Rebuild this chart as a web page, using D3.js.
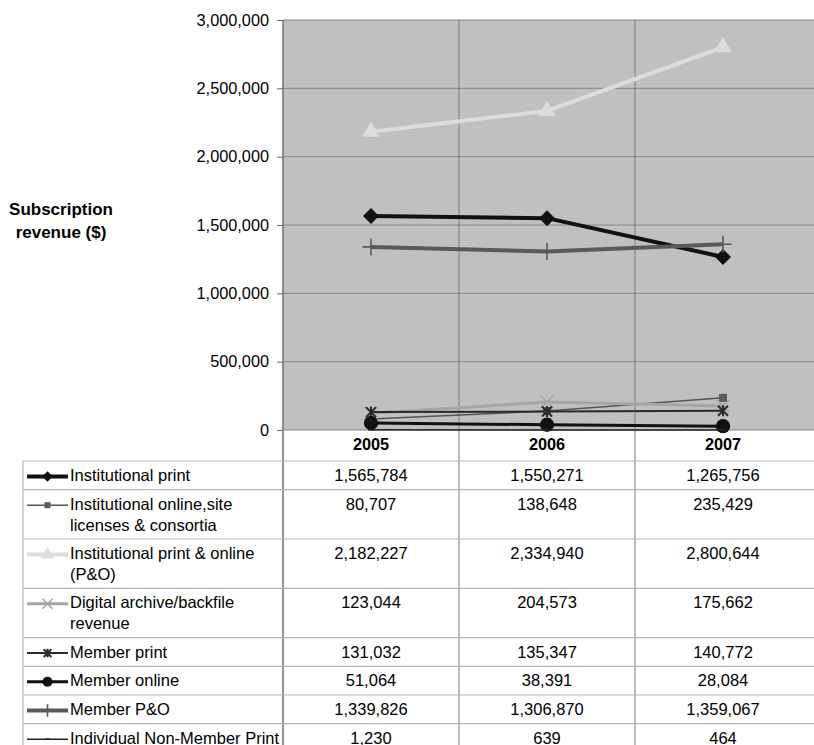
<!DOCTYPE html>
<html>
<head>
<meta charset="utf-8">
<script src="https://cdn.jsdelivr.net/npm/d3@7"></script>
<style>
  html, body { margin: 0; padding: 0; background: #fff; }
  svg text { font-family: "Liberation Sans", Arial, sans-serif; fill: #000; }
</style>
</head>
<body>
<svg id="chart" width="814" height="745"></svg>
<script>
// ---- data ----
const years = ["2005", "2006", "2007"];
const yTicks = [0, 500000, 1000000, 1500000, 2000000, 2500000, 3000000];

const seriesLabels = [
  ["Institutional print"],
  ["Institutional online,site", "licenses & consortia"],
  ["Institutional print & online", "(P&O)"],
  ["Digital archive/backfile", "revenue"],
  ["Member print"],
  ["Member online"],
  ["Member P&O"],
  ["Individual Non-Member Print"]
];

const institutionalPrint = [1565784, 1550271, 1265756];
const institutionalOnline = [80707, 138648, 235429];
const institutionalPO = [2182227, 2334940, 2800644];
const digitalArchive = [123044, 204573, 175662];
const memberPrint = [131032, 135347, 140772];
const memberOnline = [51064, 38391, 28084];
const memberPO = [1339826, 1306870, 1359067];
const individualNonMember = [1230, 639, 464];

const seriesValues = [
  institutionalPrint, institutionalOnline, institutionalPO, digitalArchive,
  memberPrint, memberOnline, memberPO, individualNonMember
];

// ---- custom stroke symbols ----
const plusSym = { draw(c, s) { const r = Math.sqrt(s) / 2; c.moveTo(-r, 0); c.lineTo(r, 0); c.moveTo(0, -r); c.lineTo(0, r); } };
const timesSym = { draw(c, s) { const r = Math.sqrt(s) / 2; c.moveTo(-r, -r); c.lineTo(r, r); c.moveTo(-r, r); c.lineTo(r, -r); } };
const asteriskSym = { draw(c, s) { const r = Math.sqrt(s) / 2; c.moveTo(-r, -r); c.lineTo(r, r); c.moveTo(-r, r); c.lineTo(r, -r); c.moveTo(0, -r * 1.1); c.lineTo(0, r * 1.1); } };
const dashSym = { draw(c, s) { const r = Math.sqrt(s) / 2; c.moveTo(-r, 0); c.lineTo(r, 0); } };
const diamondSym = { draw(c, s) { const r = Math.sqrt(s) / 2; c.moveTo(0, -r); c.lineTo(r, 0); c.lineTo(0, r); c.lineTo(-r, 0); c.closePath(); } };

// line / marker styles per series
const styles = [
  { color: "#111", width: 4, sym: diamondSym, size: 256, legSize: 110, fill: true },
  { color: "#555", width: 1.5, sym: d3.symbolSquare, size: 64, legSize: 36, fill: true, mcolor: "#5a5a5a" },
  { color: "#dcdcdc", width: 4, sym: d3.symbolTriangle, size: 135, legSize: 75, fill: true },
  { color: "#a6a6a6", width: 3, sym: timesSym, size: 169, legSize: 100, fill: false, sw: 1.6 },
  { color: "#2a2a2a", width: 2, sym: asteriskSym, size: 100, legSize: 60, fill: false, sw: 2 },
  { color: "#111", width: 3, sym: d3.symbolCircle, size: 160, legSize: 80, fill: true },
  { color: "#5a5a5a", width: 4, sym: plusSym, size: 289, legSize: 160, fill: false, sw: 1.6 },
  { color: "#222", width: 1.5, sym: dashSym, size: 36, legSize: 25, fill: false, sw: 1.5 }
];

// ---- layout ----
const svg = d3.select("#chart");
const plotLeft = 283, plotRight = 811, plotTop = 20, plotBottom = 430;
const tableLeft = 23, tableRight = 814, tableTop = 461;
const tableFont = "16.5px";

const x = d3.scaleBand().domain(years).range([plotLeft, plotRight]);
const y = d3.scaleLinear().domain([0, 3000000]).range([plotBottom, plotTop]);
const cx = d => x(d) + x.bandwidth() / 2;

// plot background
svg.append("rect")
  .attr("x", plotLeft).attr("y", plotTop)
  .attr("width", tableRight - plotLeft).attr("height", plotBottom - plotTop)
  .attr("fill", "#c0c0c0");

// horizontal gridlines
svg.append("g").selectAll("line").data(yTicks).join("line")
  .attr("x1", plotLeft).attr("x2", tableRight)
  .attr("y1", d => y(d)).attr("y2", d => y(d))
  .attr("stroke", "#858585").attr("stroke-width", 1);

// vertical category separators (through plot and table)
const tableRowsBottom = 752;
svg.append("g").selectAll("line").data(years.slice(1)).join("line")
  .attr("x1", d => x(d)).attr("x2", d => x(d))
  .attr("y1", plotTop).attr("y2", tableRowsBottom)
  .attr("stroke", "#7a7a7a").attr("stroke-width", 1);

// y axis
const yAxis = d3.axisLeft(y).tickValues(yTicks).tickFormat(d3.format(",")).tickSize(6).tickPadding(8);
const gy = svg.append("g").attr("transform", `translate(${plotLeft},0)`).call(yAxis);
gy.select(".domain").remove();
gy.selectAll(".tick line").attr("stroke", "#666");
gy.selectAll(".tick text").style("font-size", "16.3px").style("font-family", "'Liberation Sans', Arial, sans-serif").attr("fill", "#000");

// axis line extending through table
svg.append("line")
  .attr("x1", plotLeft).attr("x2", plotLeft).attr("y1", plotTop).attr("y2", tableRowsBottom)
  .attr("stroke", "#707070").attr("stroke-width", 1.5);

// y axis title
const title = svg.append("text").attr("text-anchor", "middle")
  .style("font-size", "17px").style("font-weight", "bold");
title.append("tspan").attr("x", 61).attr("y", 215).text("Subscription");
title.append("tspan").attr("x", 61).attr("y", 238).text("revenue ($)");

// ---- series ----
const line = d3.line().x((d, i) => cx(years[i])).y(d => y(d));
const seriesG = svg.append("g");
seriesValues.forEach((vals, si) => {
  const st = styles[si];
  seriesG.append("path").datum(vals)
    .attr("d", line).attr("fill", "none")
    .attr("stroke", st.color).attr("stroke-width", st.width)
    .attr("stroke-linejoin", "round");
  const mc = st.mcolor || st.color;
  seriesG.append("g").selectAll("path").data(vals).join("path")
    .attr("transform", (d, i) => `translate(${cx(years[i])},${y(d)})`)
    .attr("d", d3.symbol().type(st.sym).size(st.size))
    .attr("fill", st.fill ? mc : "none")
    .attr("stroke", st.fill ? "none" : mc)
    .attr("stroke-width", st.sw || 0);
});

// ---- data table ----
// header row with years
svg.append("g").selectAll("text").data(years).join("text")
  .attr("x", d => cx(d)).attr("y", 450)
  .attr("text-anchor", "middle")
  .style("font-size", "16.3px").style("font-weight", "bold")
  .text(d => d);

// row extents from label line counts
const rowTops = [];
let acc = tableTop;
seriesLabels.forEach(lbl => { rowTops.push(acc); acc += lbl.length > 1 ? 49.3 : 28.7; });
const rowBounds = rowTops.concat([acc]);

// horizontal row lines
svg.append("g").selectAll("line").data(rowBounds).join("line")
  .attr("x1", tableLeft).attr("x2", tableRight)
  .attr("y1", d => d).attr("y2", d => d)
  .attr("stroke", "#b4b4b4").attr("stroke-width", 1.2);

// table left border
svg.append("line")
  .attr("x1", tableLeft).attr("x2", tableLeft).attr("y1", tableTop).attr("y2", tableRowsBottom)
  .attr("stroke", "#b4b4b4").attr("stroke-width", 1.2);

const fmt = d3.format(",");
seriesLabels.forEach((lbl, si) => {
  const top = rowTops[si];
  const st = styles[si];
  const g = svg.append("g");
  // legend key
  const ky = top + 15.5;
  g.append("line").attr("x1", 27).attr("x2", 68).attr("y1", ky).attr("y2", ky)
    .attr("stroke", st.color).attr("stroke-width", st.width);
  const mc = st.mcolor || st.color;
  g.append("path")
    .attr("transform", `translate(47.5,${ky})`)
    .attr("d", d3.symbol().type(st.sym).size(st.legSize))
    .attr("fill", st.fill ? mc : "none")
    .attr("stroke", st.fill ? "none" : mc)
    .attr("stroke-width", st.sw || 0);
  // label
  const t = g.append("text").style("font-size", tableFont);
  lbl.forEach((ln, li) => t.append("tspan").attr("x", 70).attr("y", top + 20 + li * 21).text(ln));
  // values
  g.selectAll("text.val").data(seriesValues[si]).join("text")
    .attr("class", "val")
    .attr("x", (d, i) => cx(years[i])).attr("y", top + 20)
    .attr("text-anchor", "middle").style("font-size", tableFont)
    .text(d => fmt(d));
});
</script>
</body>
</html>
